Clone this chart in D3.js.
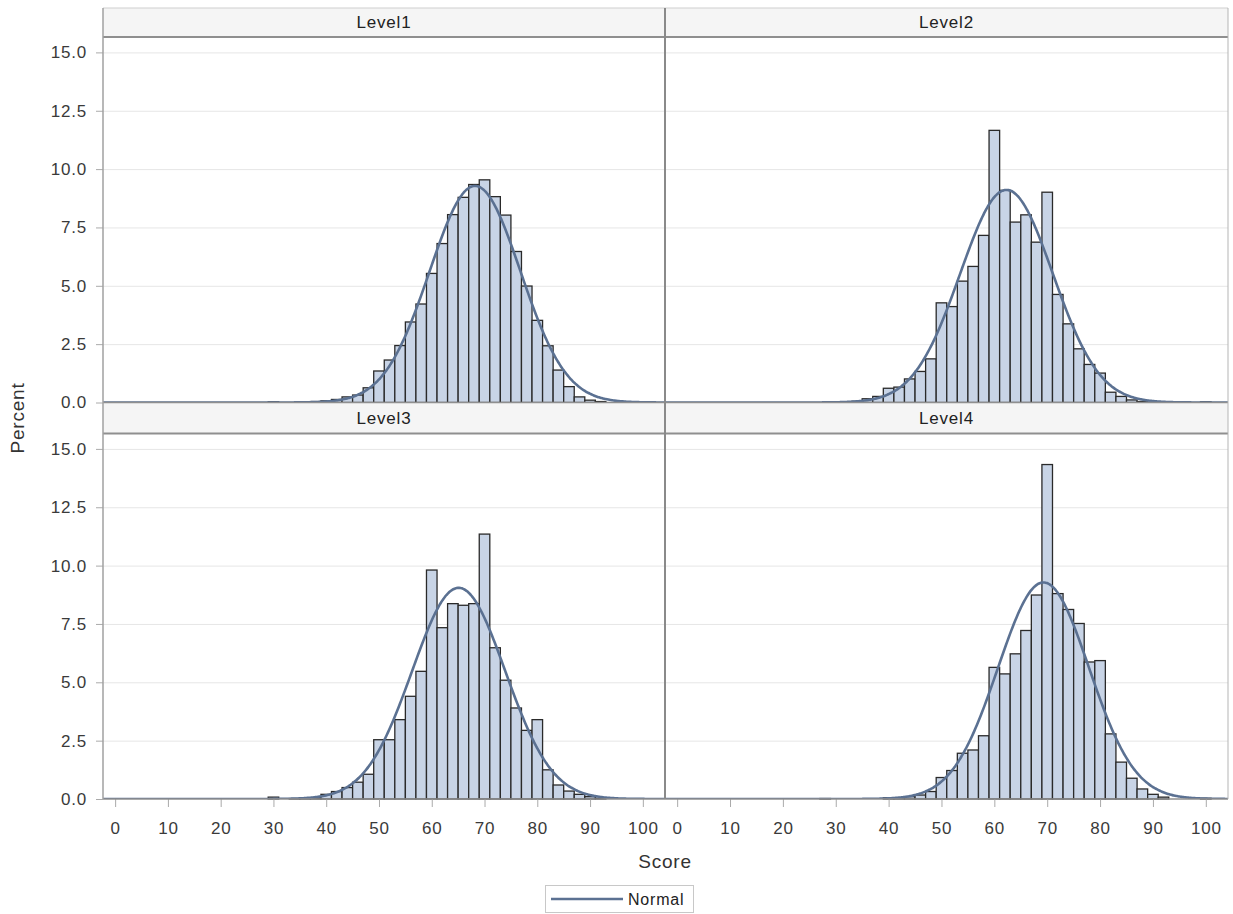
<!DOCTYPE html>
<html>
<head>
<meta charset="utf-8">
<script src="https://cdn.jsdelivr.net/npm/d3@7/dist/d3.min.js"></script>
<style>
  body { margin: 0; background: #fff; }
  text { font-family: "Liberation Sans", Arial, sans-serif; letter-spacing: 0.8px; }
</style>
</head>
<body>
<div class="chart"></div>
<script>
// bin midpoints (bin width = 2)
var bins   = [28,30,32,34,36,38,40,42,44,46,48,50,52,54,56,58,60,62,64,66,68,70,72,74,76,78,80,82,84,86,88,90,92,94,96,98,100];
var level1 = [0,0.03,0,0,0.02,0.04,0.07,0.13,0.24,0.32,0.63,1.35,1.82,2.44,3.45,4.22,5.53,6.81,8.05,8.79,9.34,9.54,8.82,8.03,6.47,4.99,3.52,2.43,1.39,0.68,0.24,0.10,0.04,0,0,0,0];
var level2 = [0,0,0,0.05,0.16,0.26,0.61,0.66,1.01,1.33,1.87,4.27,4.11,5.20,5.83,7.16,11.66,9.09,7.73,8.04,6.87,9.01,4.63,3.37,2.30,1.63,1.26,0.44,0.26,0.11,0.04,0,0,0,0,0,0.03];
var level3 = [0,0.08,0,0.02,0.04,0.06,0.20,0.32,0.49,0.72,1.06,2.54,2.54,3.40,4.40,5.47,9.81,7.34,8.37,8.30,8.37,11.35,6.48,5.09,3.90,2.94,3.40,1.25,0.60,0.34,0.20,0.10,0.03,0,0,0,0];
var level4 = [0.02,0,0,0,0,0,0.05,0.06,0.10,0.17,0.32,0.92,1.22,1.96,2.10,2.71,5.64,5.36,6.22,7.22,8.74,14.33,8.80,8.12,7.52,5.87,5.93,2.79,1.58,0.89,0.43,0.20,0.08,0,0,0,0.03];

var panelNames = ["Level1", "Level2", "Level3", "Level4"];
var panelData  = [level1, level2, level3, level4];
// fitted normal parameters
var normalMean = [68.2, 62.3, 65.1, 69.3];
var normalSd   = [8.6, 8.76, 8.82, 8.6];

var xTicks = [0,10,20,30,40,50,60,70,80,90,100];
var yTicks = [0,2.5,5,7.5,10,12.5,15];

var width = 1233, height = 914;
var cols = [[103, 665], [665, 1228]];
var rows = [{head: 8, top: 37, bottom: 402.5}, {head: 402.5, top: 433.5, bottom: 799}];

var barFill = "#c8d4e6", barStroke = "#2a2a2a", curveColor = "#5b7192";

var svg = d3.select(".chart")
            .append("svg")
            .attr("width", width)
            .attr("height", height);

var defs = svg.append("defs");

panelNames.forEach(function(name, i) {
    var c = cols[i % 2], r = rows[Math.floor(i / 2)];
    var data = bins.map(function(b, k) { return {bin: b, pct: panelData[i][k]}; });

    var x = d3.scaleLinear().domain([-2.3, 104.2]).range(c);
    var y = d3.scaleLinear().domain([0, 15.66]).range([r.bottom, r.top]);

    var g = svg.append("g").attr("class", "panel");

    // header strip
    g.append("rect")
        .attr("x", c[0]).attr("y", r.head)
        .attr("width", c[1] - c[0]).attr("height", r.top - r.head)
        .attr("fill", "#f5f5f5");
    g.append("text")
        .attr("x", (c[0] + c[1]) / 2)
        .attr("y", (r.head + r.top) / 2)
        .attr("dy", "0.35em")
        .attr("text-anchor", "middle")
        .style("font-size", "17px")
        .attr("fill", "#222")
        .text(name);

    // gridlines
    g.append("g")
        .attr("class", "grid")
        .attr("transform", "translate(" + c[0] + ",0)")
        .call(d3.axisLeft(y).tickValues(yTicks.slice(1)).tickSize(-(c[1] - c[0])).tickFormat(""))
        .call(function(a) { a.select(".domain").remove(); })
        .selectAll("line").attr("stroke", "#e6e6e6");

    // bars
    g.selectAll(".bar")
        .data(data.filter(function(d) { return d.pct > 0; }))
        .enter().append("rect")
        .attr("class", "bar")
        .attr("x", function(d) { return x(d.bin - 1); })
        .attr("width", function(d) { return x(d.bin + 1) - x(d.bin - 1); })
        .attr("y", function(d) { return y(d.pct); })
        .attr("height", function(d) { return y(0) - y(d.pct); })
        .attr("fill", barFill)
        .attr("stroke", barStroke)
        .attr("stroke-width", 1.3);

    // normal curve
    defs.append("clipPath").attr("id", "clip" + i)
        .append("rect")
        .attr("x", c[0]).attr("y", r.top)
        .attr("width", c[1] - c[0]).attr("height", r.bottom - r.top);

    var mu = normalMean[i], sd = normalSd[i];
    var pts = d3.range(-2.3, 104.3, 0.25).map(function(s) {
        return [s, 200 / (sd * Math.sqrt(2 * Math.PI)) * Math.exp(-0.5 * Math.pow((s - mu) / sd, 2))];
    });
    var line = d3.line()
                 .x(function(d) { return x(d[0]); })
                 .y(function(d) { return y(d[1]); })
                 .curve(d3.curveMonotoneX);
    g.append("path")
        .attr("d", line(pts))
        .attr("clip-path", "url(#clip" + i + ")")
        .attr("fill", "none")
        .attr("stroke", curveColor)
        .attr("stroke-width", 2.6);

    // y axis on left column
    if (i % 2 === 0) {
        var ya = g.append("g")
            .attr("class", "y-axis")
            .attr("transform", "translate(" + c[0] + ",0)")
            .call(d3.axisLeft(y).tickValues(yTicks).tickFormat(d3.format(".1f")).tickSize(7).tickPadding(9));
        ya.select(".domain").remove();
        ya.selectAll("line").attr("stroke", "#aaa");
        ya.selectAll("text").style("font-size", "17px").attr("fill", "#3a3a3a");
    }

    // x axis on bottom row
    if (i >= 2) {
        var xa = g.append("g")
            .attr("class", "x-axis")
            .attr("transform", "translate(0," + r.bottom + ")")
            .call(d3.axisBottom(x).tickValues(xTicks).tickSize(8).tickPadding(15));
        xa.select(".domain").remove();
        xa.selectAll("line").attr("stroke", "#aaa");
        xa.selectAll("text").style("font-size", "17px").attr("fill", "#3a3a3a");
    }
});

// panel frame lines
var frame = svg.append("g").attr("fill", "none");
function hline(yy, x0, x1, col, w) {
    frame.append("line").attr("x1", x0).attr("x2", x1).attr("y1", yy).attr("y2", yy)
         .attr("stroke", col).attr("stroke-width", w);
}
function vline(xx, y0, y1, col, w) {
    frame.append("line").attr("x1", xx).attr("x2", xx).attr("y1", y0).attr("y2", y1)
         .attr("stroke", col).attr("stroke-width", w);
}
hline(8, 103, 1228, "#cfcfcf", 1);
hline(37, 103, 1228, "#8f8f8f", 2);
hline(402.5, 103, 1228, "#8f8f8f", 1.5);
hline(433.5, 103, 1228, "#8f8f8f", 2);
hline(799, 103, 1228, "#8f8f8f", 1.5);
vline(103, 8, 799, "#a0a0a0", 1.5);
vline(665, 8, 799, "#8a8a8a", 2);
vline(1228, 8, 799, "#b5b5b5", 1);

// axis titles
svg.append("text")
    .attr("text-anchor", "middle")
    .style("font-size", "19px")
    .attr("fill", "#333")
    .attr("transform", "translate(24,418)rotate(-90)")
    .text("Percent");

svg.append("text")
    .attr("x", 665).attr("y", 868)
    .attr("text-anchor", "middle")
    .style("font-size", "19px")
    .attr("fill", "#333")
    .text("Score");

// legend
var lg = svg.append("g").attr("class", "legend");
lg.append("rect")
    .attr("x", 545.5).attr("y", 885.5).attr("width", 148).attr("height", 27)
    .attr("fill", "#fff").attr("stroke", "#c8c8c8");
lg.append("line")
    .attr("x1", 551).attr("x2", 623).attr("y1", 899).attr("y2", 899)
    .attr("stroke", curveColor).attr("stroke-width", 2.6);
lg.append("text")
    .attr("x", 628).attr("y", 899).attr("dy", "0.35em")
    .style("font-size", "16px")
    .attr("fill", "#222")
    .text("Normal");
</script>
</body>
</html>
